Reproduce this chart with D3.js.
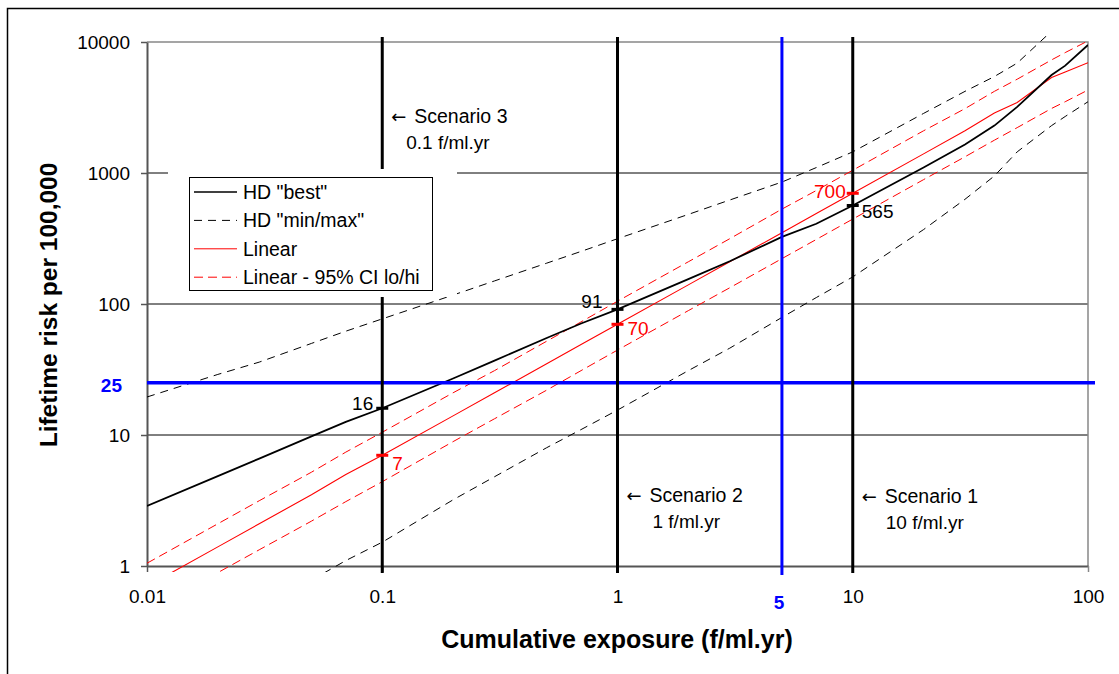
<!DOCTYPE html>
<html>
<head>
<meta charset="utf-8">
<script src="https://cdn.jsdelivr.net/npm/d3@7"></script>
<style>
  body { margin: 0; background: #fff; }
  text { font-family: "Liberation Sans", Arial, sans-serif; }
</style>
</head>
<body>
<script>
// data
const exposure  = [0.01, 0.02, 0.03, 0.05, 0.07, 0.1, 0.2, 0.3, 0.5, 0.7, 1, 2, 3, 5, 7, 10, 20, 30, 40, 50, 70, 80, 100];
const hdBest    = [2.87, 4.86, 6.6, 9.75, 12.6, 16, 27, 37, 55, 71, 91, 155, 212, 325, 410, 565, 1100, 1650, 2300, 3200, 5600, 6600, 9500];
const hdMin     = [null, null, null, 0.78, 1.1, 1.52, 3.2, 4.8, 8, 11, 15.5, 31, 46, 79, 112, 161, 370, 630, 950, 1450, 2300, 2700, 3500];
const hdMax     = [19.5, 29, 36, 50, 62, 77, 117, 150, 205, 252, 315, 483, 622, 853, 1100, 1450, 2850, 4200, 5450, 6900, 12100, 15000, 22000];
const linear    = [0.7, 1.4, 2.1, 3.5, 5.0, 7, 14, 21, 35, 49, 70, 140, 210, 350, 490, 700, 1400, 2100, 2870, 3450, 5350, 5900, 6950];
const linearLo  = [0.44, 0.89, 1.33, 2.2, 3.1, 4.4, 8.9, 13.3, 22, 31, 44.5, 89, 133, 222, 311, 445, 890, 1330, 1780, 2220, 3110, 3500, 4300];
const linearHi  = [1.05, 2.1, 3.15, 5.2, 7.4, 10.5, 21, 31, 52, 73, 105, 210, 315, 530, 735, 1050, 2100, 3100, 4200, 5200, 7300, 8300, 10200];

const xTicks = [0.01, 0.1, 1, 10, 100];
const yTicks = [1, 10, 100, 1000, 10000];
const yGrid = [10, 100, 1000];

const scenarioX = [0.1, 1, 10];
const scenarioName = ['Scenario 3', 'Scenario 2', 'Scenario 1'];
const scenarioUnit = ['0.1 f/ml.yr', '1 f/ml.yr', '10 f/ml.yr'];
const hdAtScenario = [16, 91, 565];
const linAtScenario = [7, 70, 700];

const limitExposure = 5;
const limitRisk = 25;

const legendLabels = ['HD "best"', 'HD "min/max"', 'Linear', 'Linear - 95% CI lo/hi'];

const width = 1119, height = 674;
const plot = {left: 147, right: 1088, top: 42, bottom: 566};

const svg = d3.select("body").append("svg")
    .attr("width", width)
    .attr("height", height);

// outer chart frame
svg.append("rect")
    .attr("x", 7.5).attr("y", 8.5)
    .attr("width", 1300).attr("height", 900)
    .attr("fill", "#fff")
    .attr("stroke", "#000")
    .attr("stroke-width", 1.5);

const xScale = d3.scaleLog().domain([0.01, 100]).range([plot.left, plot.right]);
const yScale = d3.scaleLog().domain([1, 10000]).range([plot.bottom, plot.top]);

// grid + plot border
svg.selectAll(".grid").data(yGrid).enter().append("line")
    .attr("x1", plot.left).attr("x2", plot.right)
    .attr("y1", d => yScale(d)).attr("y2", d => yScale(d))
    .attr("stroke", "#000").attr("stroke-width", 1);

svg.append("path")
    .attr("d", `M${plot.left},${plot.top}H${plot.right}V${plot.bottom}`)
    .attr("fill", "none").attr("stroke", "#888").attr("stroke-width", 1.5);

// axes
const yAxis = d3.axisLeft(yScale).tickValues(yTicks).tickFormat(d => d)
    .tickSize(6).tickSizeOuter(0).tickPadding(11);
const gy = svg.append("g").attr("transform", `translate(${plot.left},0)`).call(yAxis);

const xAxis = d3.axisBottom(xScale).tickValues(xTicks).tickFormat(d => d)
    .tickSize(6).tickSizeOuter(0).tickPadding(18);
const gx = svg.append("g").attr("transform", `translate(0,${plot.bottom})`).call(xAxis);

[gx, gy].forEach(g => {
    g.select(".domain").attr("stroke", "#555").attr("stroke-width", 2);
    g.selectAll(".tick line").attr("stroke", "#555").attr("stroke-width", 1.5);
    g.selectAll(".tick text").attr("font-size", 19).attr("fill", "#000")
        .style("font-family", '"Liberation Sans", Arial, sans-serif');
});
gx.select(".tick:last-of-type line").attr("stroke", "#888");

// series
svg.append("clipPath").attr("id", "clip")
    .append("rect")
    .attr("x", plot.left).attr("y", plot.top - 6)
    .attr("width", plot.right - plot.left).attr("height", plot.bottom - plot.top + 12);

const series = [
    {values: hdMax, color: "#000", width: 1, dash: "8,6"},
    {values: hdMin, color: "#000", width: 1, dash: "8,6"},
    {values: linearHi, color: "#ff0000", width: 1, dash: "9,5"},
    {values: linearLo, color: "#ff0000", width: 1, dash: "9,5"},
    {values: linear, color: "#ff0000", width: 1.1, dash: null},
    {values: hdBest, color: "#000", width: 1.8, dash: null}
];

const line = d3.line()
    .defined(d => d[1] != null)
    .x(d => xScale(d[0]))
    .y(d => yScale(d[1]));

const gLines = svg.append("g").attr("clip-path", "url(#clip)");
series.forEach(s => {
    gLines.append("path")
        .attr("d", line(exposure.map((x, i) => [x, s.values[i]])))
        .attr("fill", "none")
        .attr("stroke", s.color)
        .attr("stroke-width", s.width)
        .attr("stroke-dasharray", s.dash);
});

// limit lines (blue)
svg.append("line")
    .attr("x1", plot.left).attr("x2", plot.right + 7)
    .attr("y1", yScale(limitRisk)).attr("y2", yScale(limitRisk))
    .attr("stroke", "#0000ff").attr("stroke-width", 3.5);

svg.append("line")
    .attr("x1", xScale(limitExposure)).attr("x2", xScale(limitExposure))
    .attr("y1", plot.top - 5).attr("y2", plot.bottom + 9)
    .attr("stroke", "#0000ff").attr("stroke-width", 3);

svg.append("text")
    .attr("x", plot.left - 25).attr("y", yScale(limitRisk) + 9)
    .attr("text-anchor", "end")
    .attr("font-size", 19).attr("font-weight", "bold").attr("fill", "#0000ff")
    .text(limitRisk);

svg.append("text")
    .attr("x", xScale(limitExposure) - 3).attr("y", 609)
    .attr("text-anchor", "middle")
    .attr("font-size", 19).attr("font-weight", "bold").attr("fill", "#0000ff")
    .text(limitExposure);

// scenario lines
svg.selectAll(".scen").data(scenarioX).enter().append("line")
    .attr("x1", d => xScale(d)).attr("x2", d => xScale(d))
    .attr("y1", plot.top - 5).attr("y2", plot.bottom + 7)
    .attr("stroke", "#000").attr("stroke-width", 3);

// markers at scenarios
svg.selectAll(".mkHd").data(scenarioX).enter().append("line")
    .attr("x1", d => xScale(d) - 6).attr("x2", d => xScale(d) + 6)
    .attr("y1", (d, i) => yScale(hdAtScenario[i])).attr("y2", (d, i) => yScale(hdAtScenario[i]))
    .attr("stroke", "#000").attr("stroke-width", 3);

svg.selectAll(".mkLin").data(scenarioX).enter().append("line")
    .attr("x1", d => xScale(d) - 6).attr("x2", d => xScale(d) + 6)
    .attr("y1", (d, i) => yScale(linAtScenario[i])).attr("y2", (d, i) => yScale(linAtScenario[i]))
    .attr("stroke", "#ff0000").attr("stroke-width", 3);

// value labels: offsets per scenario
const hdLabelPos = [{dx: -9, dy: 2, anchor: "end"}, {dx: -15, dy: -1, anchor: "end"}, {dx: 9, dy: 13, anchor: "start"}];
const linLabelPos = [{dx: 10, dy: 15, anchor: "start"}, {dx: 10, dy: 11, anchor: "start"}, {dx: -7, dy: 5, anchor: "end"}];

scenarioX.forEach((x, i) => {
    svg.append("text")
        .attr("x", xScale(x) + hdLabelPos[i].dx)
        .attr("y", yScale(hdAtScenario[i]) + hdLabelPos[i].dy)
        .attr("text-anchor", hdLabelPos[i].anchor)
        .attr("font-size", 19).attr("fill", "#000")
        .text(hdAtScenario[i]);
    svg.append("text")
        .attr("x", xScale(x) + linLabelPos[i].dx)
        .attr("y", yScale(linAtScenario[i]) + linLabelPos[i].dy)
        .attr("text-anchor", linLabelPos[i].anchor)
        .attr("font-size", 19).attr("fill", "#ff0000")
        .text(linAtScenario[i]);
});

// scenario captions
const captionY = [123, 502, 503];
scenarioX.forEach((x, i) => {
    const t = svg.append("text")
        .attr("y", captionY[i])
        .attr("font-size", 19.5).attr("fill", "#000");
    t.append("tspan").attr("x", xScale(x) + 9)
        .style("font-family", '"DejaVu Sans", sans-serif').attr("font-size", 18).text("\u2190");
    t.append("tspan").attr("x", xScale(x) + 32).text(scenarioName[i]);
    svg.append("text")
        .attr("x", xScale(x) + (i == 2 ? 33 : i == 1 ? 35 : 24)).attr("y", captionY[i] + 26)
        .attr("font-size", 19).attr("fill", "#000")
        .text(scenarioUnit[i]);
});

// legend
svg.append("rect")
    .attr("x", 168).attr("y", 169)
    .attr("width", 289).attr("height", 128)
    .attr("fill", "#fff");

svg.append("rect")
    .attr("x", 189.5).attr("y", 177.5)
    .attr("width", 243).attr("height", 113)
    .attr("fill", "#fff").attr("stroke", "#000").attr("stroke-width", 1);

const legendStyle = [series[5], series[0], series[4], series[2]];
legendLabels.forEach((label, i) => {
    const y = 192 + i * 28.4;
    svg.append("line")
        .attr("x1", 194).attr("x2", 237)
        .attr("y1", y).attr("y2", y)
        .attr("stroke", legendStyle[i].color)
        .attr("stroke-width", i == 0 ? 1.5 : 1)
        .attr("stroke-dasharray", legendStyle[i].dash);
    svg.append("text")
        .attr("x", 243).attr("y", y + 7)
        .attr("font-size", 19.5).attr("fill", "#000")
        .text(label);
});

// axis titles
svg.append("text")
    .attr("x", 617).attr("y", 648)
    .attr("text-anchor", "middle")
    .attr("font-size", 25).attr("font-weight", "bold")
    .text("Cumulative exposure (f/ml.yr)");

svg.append("text")
    .attr("transform", "translate(57,305) rotate(-90)")
    .attr("text-anchor", "middle")
    .attr("font-size", 24.5).attr("font-weight", "bold")
    .text("Lifetime risk per 100,000");
</script>
</body>
</html>
